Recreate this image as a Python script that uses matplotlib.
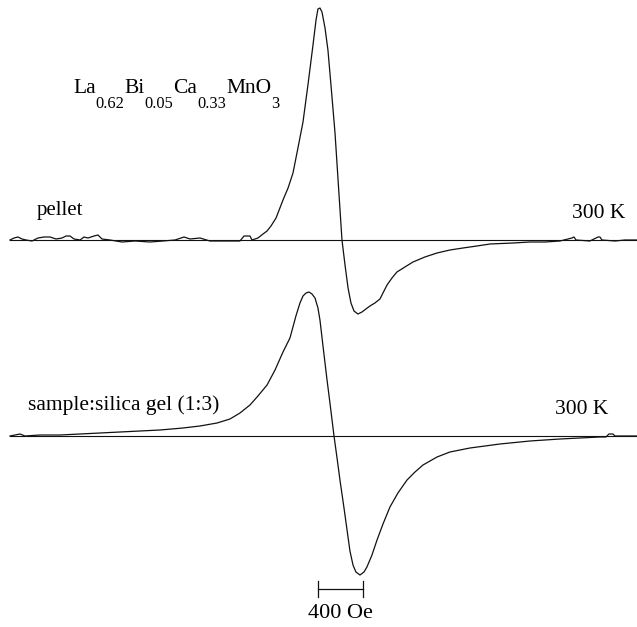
import matplotlib
matplotlib.use("Agg")
import matplotlib.pyplot as plt

# EPR spectra of La0.62Bi0.05Ca0.33MnO3 at 300 K (field in Oe, signal in a.u.)
field_top = [445, 481, 516, 552, 588, 641, 694, 748, 801, 855, 908, 944, 979, 1015,
             1068, 1104, 1139, 1193, 1228, 1264, 1335, 1442, 1558, 1691, 1807, 1914,
             1994, 2047, 2136, 2225, 2359, 2492, 2528, 2581, 2599, 2652, 2697, 2733,
             2768, 2813, 2875, 2920, 2964, 3008, 3053, 3097, 3142, 3169, 3186, 3204,
             3222, 3249, 3275, 3302, 3338, 3364, 3400, 3427, 3454, 3480, 3507, 3542,
             3578, 3613, 3649, 3693, 3738, 3774, 3801, 3845, 3889, 3960, 4032, 4138,
             4246, 4361, 4477, 4601, 4717, 4922, 5073, 5207, 5340, 5447, 5465, 5483,
             5607, 5661, 5679, 5696, 5714, 5830, 5919, 6026]
signal_top = [0, 2, 3, 1, 0, -1, 2, 3, 3, 1, 2, 4, 4, 1,
              0, 3, 2, 4, 5, 1, 0, -2, -1, -2, -1, 0,
              3, 1, 2, -1, -1, -1, 4, 4, 0, 2, 6, 9,
              14, 22, 40, 52, 67, 92, 118, 155, 195, 220, 231, 232,
              228, 212, 190, 155, 107, 62, 0, -25, -48, -63, -71, -74,
              -72, -69, -66, -63, -59, -51, -45, -38, -32, -27, -22, -17,
              -13, -10, -8, -6, -4, -3, -2, -2, -1, 2, 3, 0,
              -1, 2, 3, 3, 0, -1, 0, 0]

field_bottom = [445, 534, 579, 712, 890, 1068, 1246, 1424, 1602, 1780, 1985, 2136,
                2288, 2403, 2492, 2581, 2652, 2733, 2804, 2875, 2937, 2990, 3026,
                3053, 3080, 3106, 3133, 3160, 3186, 3204, 3231, 3267, 3293, 3329,
                3356, 3382, 3418, 3445, 3471, 3498, 3524, 3560, 3596, 3622, 3667,
                3712, 3765, 3827, 3898, 3979, 4050, 4121, 4246, 4361, 4539, 4806,
                5073, 5340, 5696, 5750, 5776, 5812, 5830, 6026]
signal_bottom = [0, 2, 0, 1, 1, 2, 3, 4, 5, 6, 8, 10,
                 13, 17, 23, 31, 40, 51, 66, 84, 98, 120, 133,
                 140, 143, 144, 142, 138, 128, 116, 90, 56, 33, 0,
                 -22, -44, -72, -94, -115, -129, -136, -139, -136, -131, -119,
                 -104, -88, -71, -57, -44, -36, -29, -21, -16, -12, -8,
                 -5, -3, -1, -1, 2, 2, 0, 0]

offset_top = 387
offset_bottom = 191
baseline_start = 445
scale_bar_start = 3187
scale_bar_len = 400

formula = [("La", False), ("0.62", True), ("Bi", False), ("0.05", True),
           ("Ca", False), ("0.33", True), ("MnO", False), ("3", True)]

fig = plt.figure(figsize=(6.37, 6.27), dpi=100)
ax = fig.add_axes([0, 0, 1, 1])
ax.set_xlim(356, 6026)
ax.set_ylim(0, 627)
ax.axis('off')

serif = 'Liberation Serif'
lc = '#111111'

for H, s, off in [(field_top, signal_top, offset_top),
                  (field_bottom, signal_bottom, offset_bottom)]:
    ax.plot([baseline_start, 6026], [off, off], color=lc, lw=0.8)
    ax.plot(H, [v + off for v in s], color=lc, lw=0.9)

# formula with subscripts, placed piece by piece
renderer = fig.canvas.get_renderer()
x_off = 0
for piece, sub in formula:
    t = ax.annotate(piece, xy=(1006, 534), xytext=(x_off, -10.8 if sub else 0),
                    textcoords='offset points', fontsize=11.8 if sub else 15.5,
                    family=serif, va='baseline', ha='left')
    x_off += t.get_window_extent(renderer).width * 72 / fig.dpi

ax.text(686, 416, "pellet", fontsize=15, family=serif, va='center', ha='left')
ax.text(5919, 414, "300 K", fontsize=15.5, family=serif, va='center', ha='right')
ax.text(605, 222, "sample:silica gel (1:3)", fontsize=15.5, family=serif,
        va='center', ha='left')
ax.text(5767, 217, "300 K", fontsize=15.5, family=serif, va='center', ha='right')

# 400 Oe scale bar
x0, x1 = scale_bar_start, scale_bar_start + scale_bar_len
ax.plot([x0, x1], [38, 38], color=lc, lw=0.9)
ax.plot([x0, x0], [30, 46], color=lc, lw=0.9)
ax.plot([x1, x1], [30, 46], color=lc, lw=0.9)
ax.text((x0 + x1) / 2, 13, "400 Oe", fontsize=16, family=serif,
        va='center', ha='center')

fig.savefig("out.png", dpi=100, facecolor='white')
